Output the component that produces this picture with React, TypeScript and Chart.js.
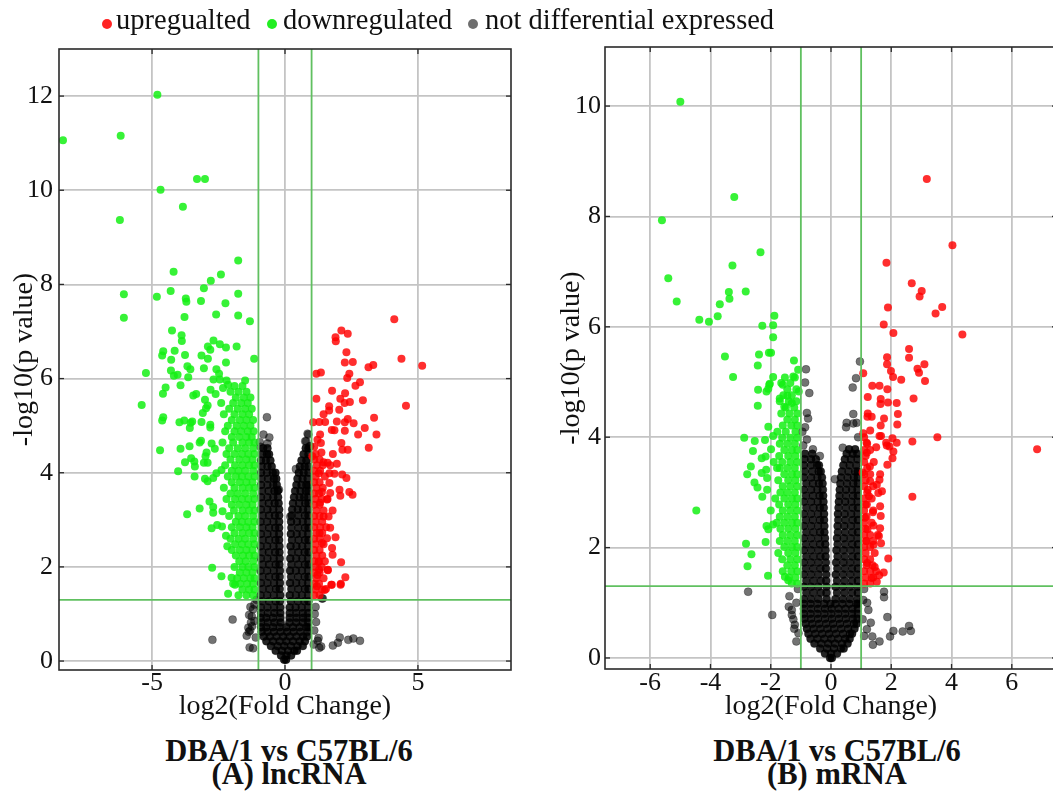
import React, { useEffect, useRef } from 'react';
import { Chart, registerables } from 'chart.js';

Chart.register(...registerables);

type Pt = [number, number];
type Row = number[];

const SERIF = "'Liberation Serif', 'Times New Roman', Times, serif";

// ---------- shared labels / styles ----------
const seriesNames = ['upregualted', 'downregulated', 'not differential expressed'];
const seriesColors = ['rgba(255,0,0,0.82)', 'rgba(20,240,20,0.85)', 'rgba(0,0,0,0.55)'];
const coreColor = 'rgba(0,0,0,0.86)';
const legendDotColors = ['#ff2424', '#22ee22', '#6e6e6e'];
const foldChangeCut = 1;
const pValueCut = 1.301;
const xAxisTitle = 'log2(Fold Change)';
const yAxisTitle = '-log10(p value)';
const comparison = 'DBA/1 vs C57BL/6';
const panelTitles = ['(A) lncRNA', '(B) mRNA'];

// ---------- panel A (lncRNA) ----------
const xRangeA = [-8.5, 8.5];
const yRangeA = [-0.19, 13];
const xTicksA = [-5, 0, 5];
const yTicksA = [0, 2, 4, 6, 8, 10, 12];

const upA: Pt[] = [
  [4.11,7.26],[2.12,7.02],[2.36,6.95],[1.90,6.88],[1.91,6.79],[2.31,6.56],[2.25,6.34],[2.55,6.35],[4.38,6.42],[5.16,6.27],
  [3.32,6.29],[3.14,6.24],[1.18,6.10],[1.35,6.13],[2.42,6.10],[2.34,6.01],[2.82,5.92],[2.65,5.85],[1.77,5.74],[2.26,5.69],
  [1.18,5.57],[2.08,5.57],[2.24,5.48],[2.44,5.50],[2.93,5.54],[4.55,5.42],[1.66,5.41],[1.66,5.32],[2.04,5.34],[1.45,5.24],
  [3.35,5.17],[1.06,5.07],[1.29,5.08],[1.95,5.09],[2.36,5.14],[2.25,5.07],[2.58,5.05],[1.51,5.08],[1.76,4.91],[1.86,4.90],
  [2.25,4.89],[3.00,4.95],[2.75,4.81],[3.44,4.81],[1.32,4.81],[1.22,4.70],[1.35,4.63],[2.12,4.63],[2.16,4.49],[2.36,4.49],
  [3.15,4.53],[1.37,4.43],[1.80,4.40],[1.03,4.35],[1.45,4.22],[1.60,4.21],[1.70,4.16],[1.95,4.19],[1.27,3.99],[1.67,3.99],
  [1.86,3.98],[2.15,3.96],[2.31,3.89],[1.67,3.78],[1.39,3.59],[1.70,3.57],[2.05,3.64],[2.42,3.59],[2.54,3.53],[2.08,3.51],
  [1.32,3.36],[1.58,3.43],[1.79,3.20],[1.45,3.07],[1.64,3.07],[1.70,2.83],[1.90,2.63],[1.58,2.61],[1.30,2.72],[1.39,2.51],
  [1.77,2.40],[1.79,2.26],[2.11,2.10],[1.26,2.10],[1.61,1.93],[2.27,1.78],[2.10,1.64],[1.76,1.62],[1.54,1.53],[1.20,1.59],
  [1.22,1.83],[2.09,1.62],[1.74,1.62],[1.49,1.51],[1.28,1.94],[1.61,1.94],
];
const upADense: Row[] = [
  [1.40, 1.1, 1.3],[1.52, 1.15, 1.4],[1.64, 1.1, 1.28],[1.76, 1.18, 1.45],[1.88, 1.1, 1.3],[2.00, 1.15, 1.38],
  [2.12, 1.1, 1.28, 1.5],[2.24, 1.18, 1.4],[2.36, 1.1, 1.3],[2.48, 1.15, 1.45],[2.60, 1.1, 1.3],[2.72, 1.18, 1.4],
  [2.84, 1.1, 1.32, 1.55],[2.96, 1.15, 1.4],[3.08, 1.1, 1.3],[3.20, 1.18, 1.45],[3.32, 1.1, 1.3],[3.44, 1.15, 1.38, 1.6],
  [3.56, 1.1, 1.28],[3.68, 1.18, 1.42],[3.80, 1.1, 1.3],[3.92, 1.15, 1.5],[4.04, 1.1, 1.32],[4.16, 1.2, 1.42],
  [4.28, 1.1, 1.3],[4.40, 1.15],[4.55, 1.1],
];
const downA: Pt[] = [
  [-4.80,12.03],[-8.35,11.06],[-6.18,11.16],[-3.31,10.24],[-3.01,10.24],[-4.68,10.01],[-3.84,9.65],[-6.21,9.37],[-1.76,8.51],
  [-4.19,8.27],[-2.41,8.21],[-2.79,8.08],[-3.05,7.92],[-6.06,7.79],[-4.30,7.86],[-4.82,7.74],[-3.73,7.70],[-3.71,7.63],
  [-3.16,7.65],[-2.24,7.60],[-1.76,7.80],[-6.06,7.29],[-3.78,7.31],[-2.59,7.36],[-1.76,7.34],[-1.32,7.22],[-4.25,7.02],
  [-3.89,6.92],[-3.88,6.80],[-2.69,6.81],[-2.45,6.73],[-2.90,6.68],[-2.81,6.61],[-2.22,6.66],[-1.82,6.68],[-4.58,6.58],
  [-4.62,6.49],[-4.15,6.59],[-3.76,6.50],[-4.28,6.40],[-3.14,6.49],[-2.90,6.42],[-2.22,6.34],[-1.16,6.42],[-3.67,6.26],
  [-3.56,6.20],[-3.05,6.22],[-2.58,6.20],[-2.48,6.10],[-5.23,6.12],[-4.29,6.17],[-4.18,6.06],[-4.04,6.08],[-3.64,6.03],
  [-2.69,5.98],[-2.45,5.98],[-3.93,5.86],[-4.49,5.81],[-4.59,5.68],[-5.39,5.44],[-3.45,5.64],[-3.34,5.67],[-3.01,5.55],
  [-2.91,5.43],[-2.80,5.76],[-2.61,5.67],[-2.33,5.80],[-2.14,5.87],[-4.58,5.18],[-4.62,5.11],[-3.97,5.07],[-3.79,5.11],
  [-3.55,5.06],[-3.49,5.09],[-3.58,4.95],[-3.14,5.08],[-3.09,5.27],[-2.97,5.37],[-2.81,5.02],[-2.81,4.96],[-4.70,4.48],
  [-3.93,4.51],[-3.59,4.56],[-3.21,4.64],[-3.16,4.68],[-2.95,4.43],[-2.99,4.35],[-2.76,4.62],[-2.64,4.51],[-3.76,4.22],
  [-3.53,4.31],[-3.41,4.24],[-3.39,4.13],[-3.05,4.21],[-2.91,4.21],[-4.02,4.03],[-3.40,3.92],[-3.01,3.87],[-2.91,3.82],
  [-2.70,3.89],[-2.58,3.99],[-2.39,4.06],[-3.68,3.12],[-3.21,3.24],[-2.84,3.39],[-2.70,3.27],[-2.70,3.15],[-2.35,3.18],
  [-2.76,2.82],[-2.55,2.89],[-2.37,2.86],[-2.22,2.66],[-2.17,2.44],[-2.74,1.98],[-2.39,1.80],[-2.14,1.43],[-2.01,1.77],
  [-1.88,1.62],
];
const downADense: Row[] = [
  [1.40, -1.2, -1.45, -1.75],[1.52, -1.15, -1.35, -1.6],[1.64, -1.2, -1.42, -1.68, -1.95],[1.76, -1.15, -1.3, -1.55, -1.8],
  [1.88, -1.22, -1.45, -1.7],[2.00, -1.15, -1.38, -1.6, -1.9],[2.12, -1.2, -1.48, -1.72],[2.24, -1.15, -1.35, -1.58, -1.85],
  [2.36, -1.22, -1.45, -1.7, -2.0],[2.48, -1.15, -1.38, -1.62, -1.88],[2.60, -1.2, -1.5, -1.75, -2.05],[2.72, -1.15, -1.35, -1.6, -1.9],
  [2.84, -1.22, -1.45, -1.7, -2.0],[2.96, -1.15, -1.38, -1.62, -1.85],[3.08, -1.2, -1.5, -1.75, -2.1],[3.20, -1.15, -1.35, -1.6, -1.92],
  [3.32, -1.22, -1.45, -1.72, -2.0],[3.44, -1.15, -1.38, -1.62, -1.88, -2.2],[3.56, -1.2, -1.5, -1.78, -2.05],
  [3.68, -1.15, -1.35, -1.6, -1.9, -2.3],[3.80, -1.22, -1.45, -1.7, -2.0],[3.92, -1.15, -1.38, -1.62, -1.85, -2.15],
  [4.04, -1.2, -1.5, -1.75, -2.0],[4.16, -1.15, -1.35, -1.6, -1.88, -2.25],[4.28, -1.22, -1.45, -1.72, -2.05],
  [4.40, -1.15, -1.38, -1.62, -1.9, -2.2],[4.52, -1.2, -1.5, -1.78, -2.1],[4.64, -1.15, -1.35, -1.6, -1.95, -2.35],
  [4.76, -1.25, -1.45, -1.72, -2.0],[4.88, -1.18, -1.4, -1.65, -1.9, -2.25],[5.00, -1.3, -1.55, -1.82, -2.15],
  [5.12, -1.2, -1.45, -1.7, -2.0],[5.24, -1.35, -1.6, -1.9, -2.3],[5.36, -1.25, -1.5, -1.78, -2.1],
  [5.48, -1.4, -1.65, -1.95, -2.4],[5.60, -1.3, -1.55, -1.85],[5.72, -1.45, -1.75, -2.05],[5.84, -1.6, -1.9],[5.96, -1.5, -2.2],
];
const nsA: Pt[] = [
  [-0.68,5.18],[-0.81,4.81],[-0.59,4.75],[-0.66,4.62],[0.41,4.08],[0.80,4.67],[0.88,4.81],[0.92,4.56],[-0.23,3.64],
  [0.2,3.07],[0.85,4.83],[0.76,4.67],[0.95,4.56],[0.88,4.29],[-0.26,3.63],[-0.95,4.65],[-0.92,4.55],
  [-2.73,0.45],[-1.97,0.88],[-1.33,0.29],[-1.31,0.65],[-1.44,0.54],[-1.2,0.27],[-1.38,0.71],[-1.24,0.74],
  [1.23,0.43],[1.36,0.31],[1.80,0.33],[1.99,0.39],[2.06,0.50],[2.38,0.45],[2.57,0.48],[2.82,0.43],[1.42,1.33],
  [1.17,0.83],[1.26,0.49],[1.29,0.28],[1.39,1.33],[-1.15,1.2],[-1.2,1.1],[-1.25,0.95],[-1.15,0.85],[1.12,1.0],
  [1.1,0.65],[1.15,1.15],[-1.1,0.5],[1.08,0.35],[-1.07,1.3],[-1.3,1.15],[-1.35,0.98],[-1.28,0.82],[-1.36,0.62],
];
const nsADense: Row[] = [
  [0.03, -0.03, 0.04],
  [0.12, -0.15, 0.05, 0.23],
  [0.22, -0.35, -0.12, 0.12, 0.35, 0.45],
  [0.32, -0.53, -0.28, -0.03, 0.22, 0.47, 0.67],
  [0.42, -0.7, -0.45, -0.2, 0.05, 0.3, 0.55, 0.75],
  [0.52, -0.8, -0.57, -0.32, -0.07, 0.18, 0.43, 0.68, 0.83],
  [0.62, -0.88, -0.66, -0.42, -0.17, 0.08, 0.32, 0.58, 0.85],
  [0.72, -0.9, -0.7, -0.45, -0.2, 0.05, 0.3, 0.55, 0.8, 0.87],
  [0.82, -0.9, -0.65, -0.4, -0.17, 0.17, 0.42, 0.67, 0.87],
  [0.92, -0.91, -0.7, -0.45, -0.18, 0.18, 0.43, 0.68, 0.87],
  [1.02, -0.9, -0.65, -0.4, -0.18, 0.18, 0.42, 0.67, 0.87],
  [1.14, -0.91, -0.66, -0.41, -0.18, 0.18, 0.4, 0.63, 0.87],
  [1.27, -0.85, -0.6, -0.35, -0.19, 0.22, 0.48, 0.73, 0.88],
  [1.40, -0.92, -0.67, -0.42, -0.18, 0.18, 0.41, 0.64, 0.87],
  [1.53, -0.84, -0.59, -0.34, -0.2, 0.24, 0.5, 0.75, 0.88],
  [1.66, -0.91, -0.66, -0.41, -0.19, 0.19, 0.42, 0.65, 0.87],
  [1.79, -0.85, -0.6, -0.36, -0.2, 0.23, 0.49, 0.74, 0.88],
  [1.92, -0.92, -0.67, -0.42, -0.19, 0.19, 0.41, 0.64, 0.87],
  [2.05, -0.84, -0.6, -0.35, -0.21, 0.24, 0.5, 0.75, 0.88],
  [2.18, -0.91, -0.66, -0.42, -0.2, 0.2, 0.42, 0.65, 0.87],
  [2.31, -0.85, -0.61, -0.37, -0.21, 0.25, 0.5, 0.74, 0.88],
  [2.44, -0.92, -0.67, -0.43, -0.21, 0.21, 0.43, 0.65, 0.87],
  [2.57, -0.84, -0.6, -0.36, -0.22, 0.26, 0.51, 0.75, 0.88],
  [2.70, -0.91, -0.66, -0.42, -0.22, 0.22, 0.44, 0.66, 0.87],
  [2.83, -0.85, -0.6, -0.37, -0.22, 0.24, 0.5, 0.75, 0.88],
  [2.96, -0.92, -0.67, -0.43, -0.22, 0.23, 0.45, 0.67, 0.87],
  [3.09, -0.84, -0.6, -0.38, -0.22, 0.25, 0.5, 0.75, 0.88],
  [3.22, -0.91, -0.66, -0.44, -0.22, 0.27, 0.48, 0.68, 0.87],
  [3.35, -0.85, -0.61, -0.39, -0.24, 0.3, 0.53, 0.76, 0.88],
  [3.48, -0.9, -0.66, -0.44, -0.26, 0.34, 0.55, 0.72, 0.87],
  [3.61, -0.86, -0.62, -0.4, -0.28, 0.38, 0.58, 0.78, 0.88],
  [3.74, -0.9, -0.66, -0.44, -0.31, 0.43, 0.62, 0.8, 0.88],
  [3.87, -0.88, -0.64, -0.42, -0.33, 0.47, 0.66, 0.85],
  [4.00, -0.9, -0.68, -0.46, -0.36, 0.52, 0.7, 0.88],
  [4.13, -0.88, -0.66, -0.5, 0.56, 0.74, 0.88],
  [4.26, -0.9, -0.72, -0.55, 0.62, 0.8],
  [4.39, -0.86, -0.68, -0.6, 0.7, 0.88],
  [4.52, -0.82, -0.66, 0.78, 0.88],
];

// ---------- panel B (mRNA) ----------
const xRangeB = [-7.5, 7.5];
const yRangeB = [-0.2, 11.07];
const xTicksB = [-6, -4, -2, 0, 2, 4, 6];
const yTicksB = [0, 2, 4, 6, 8, 10];

const upB: Pt[] = [
  [3.18,8.68],[4.03,7.48],[1.84,7.16],[2.68,6.79],[3.01,6.65],[2.94,6.55],[3.69,6.36],[3.47,6.24],[1.89,6.35],[1.75,6.04],
  [2.07,5.89],[4.36,5.86],[2.59,5.60],[2.59,5.44],[1.86,5.45],[1.86,5.32],[3.10,5.32],[2.87,5.24],[2.92,5.17],[1.99,5.20],
  [2.06,5.09],[2.33,5.04],[3.12,5.02],[1.07,5.16],[1.37,4.93],[1.61,4.93],[1.87,4.87],[1.22,4.73],[1.65,4.69],[1.64,4.60],
  [1.89,4.63],[2.18,4.62],[2.74,4.70],[1.22,4.43],[1.35,4.37],[1.21,4.37],[2.22,4.42],[1.76,4.34],[1.65,4.21],[2.20,4.23],
  [1.30,4.12],[1.07,4.07],[1.61,4.02],[1.66,4.02],[2.04,3.98],[2.18,3.90],[1.83,3.90],[1.85,3.85],[1.50,3.82],[1.18,3.90],
  [1.19,3.72],[2.70,3.92],[3.53,4.00],[6.84,3.78],[1.94,3.83],[2.07,3.74],[2.04,3.62],[1.87,3.50],[1.29,3.47],[1.05,3.36],
  [1.63,3.33],[1.61,3.23],[1.30,3.20],[1.52,3.14],[1.69,3.02],[1.57,2.99],[1.22,3.05],[1.26,2.93],[2.70,2.92],[1.63,2.75],
  [1.65,2.57],[1.39,2.64],[1.41,2.40],[1.63,2.35],[1.59,2.21],[1.66,2.08],[1.41,2.05],[1.16,2.12],[1.21,2.33],[1.13,2.54],
  [1.19,2.78],[1.2,1.72],[1.45,1.65],[1.6,1.5],[1.35,1.45],[1.52,1.38],[1.75,1.55],[1.9,1.8],
];
const upBDense: Row[] = [
  [1.35, 1.1, 1.3],[1.46, 1.15, 1.4],[1.57, 1.1, 1.3, 1.5],[1.68, 1.18, 1.38],[1.79, 1.1, 1.3],[1.90, 1.15, 1.45],
  [2.01, 1.1, 1.3],[2.12, 1.18, 1.4],[2.23, 1.1, 1.3, 1.55],[2.34, 1.15],[2.45, 1.1, 1.35],[2.56, 1.18],[2.67, 1.1, 1.4],
  [2.78, 1.15],[2.89, 1.1, 1.35],[3.00, 1.2],[3.11, 1.1, 1.4],[3.22, 1.15],[3.33, 1.1, 1.3],[3.44, 1.2],[3.55, 1.1, 1.42],
  [3.66, 1.15],[3.77, 1.1, 1.3],[3.88, 1.2],[4.00, 1.1],
];
const downB: Pt[] = [
  [-5.00,10.08],[-3.21,8.35],[-5.61,7.93],[-2.34,7.35],[-3.27,7.11],[-5.40,6.88],[-5.12,6.46],[-3.39,6.63],[-3.37,6.51],
  [-2.83,6.64],[-3.69,6.41],[-3.76,6.19],[-4.37,6.13],[-4.05,6.09],[-1.88,6.2],[-2.28,6.02],[-1.92,6.03],[-1.92,5.81],
  [-3.52,5.46],[-2.39,5.50],[-2.06,5.53],[-1.99,5.53],[-2.43,5.30],[-1.23,5.39],[-1.09,5.22],[-3.25,5.09],[-1.92,5.09],
  [-1.53,5.08],[-1.20,5.08],[-2.42,4.86],[-2.14,4.83],[-2.43,4.57],[-2.05,4.95],[-1.07,4.83],[-2.03,4.97],[-2.08,4.88],
  [-2.08,4.19],[-1.92,4.02],[-2.19,3.95],[-1.99,3.78],[-2.30,3.62],[-2.17,3.65],[-2.88,3.99],[-2.53,3.93],[-2.59,3.75],
  [-2.66,3.47],[-2.78,3.33],[-2.30,3.35],[-2.12,3.26],[-2.15,3.41],[-1.79,3.44],[-2.54,3.18],[-2.44,3.09],[-2.28,2.92],
  [-2.12,3.05],[-4.47,2.67],[-2.00,2.67],[-2.14,2.39],[-2.08,2.33],[-1.92,2.42],[-2.82,2.07],[-2.64,1.88],[-2.77,1.66],
  [-2.17,2.1],[-2.09,1.49],[-1.53,1.47],[-1.42,1.41],[-1.6,4.95],[-1.45,4.75],[-1.3,4.62],[-1.7,4.7],[-1.55,4.55],
];
const downBDense: Row[] = [
  [1.35, -1.12, -1.3],[1.46, -1.18, -1.4],[1.57, -1.12, -1.32, -1.6],[1.68, -1.2, -1.45],[1.79, -1.12, -1.35, -1.62],
  [1.90, -1.18, -1.42, -1.75],[2.01, -1.12, -1.3, -1.55],[2.12, -1.2, -1.45, -1.7],[2.23, -1.12, -1.35, -1.6],
  [2.34, -1.18, -1.42, -1.68],[2.45, -1.12, -1.3, -1.55, -1.8],[2.56, -1.2, -1.45, -1.7],[2.67, -1.12, -1.35, -1.6],
  [2.78, -1.18, -1.42, -1.72],[2.89, -1.12, -1.3, -1.55, -1.85],[3.00, -1.2, -1.45, -1.68],[3.11, -1.12, -1.35, -1.6],
  [3.22, -1.18, -1.42, -1.75],[3.33, -1.12, -1.3, -1.55],[3.44, -1.2, -1.45, -1.7],[3.55, -1.12, -1.35, -1.62, -1.9],
  [3.66, -1.18, -1.42, -1.72],[3.77, -1.12, -1.3, -1.55],[3.88, -1.2, -1.45, -1.7],[3.99, -1.12, -1.35, -1.62],
  [4.10, -1.18, -1.5, -1.78],[4.21, -1.12, -1.32, -1.6],[4.32, -1.2, -1.45],[4.43, -1.12, -1.38, -1.65],[4.54, -1.22, -1.5],
  [4.65, -1.15, -1.4, -1.7],[4.76, -1.3, -1.58],[4.87, -1.15, -1.45],[4.98, -1.35, -1.65],[5.10, -1.25],
];
const nsB: Pt[] = [
  [-0.83,5.23],[-0.86,4.99],[-0.72,4.80],[-0.80,4.44],[-0.76,4.34],[-0.86,4.18],[-0.8,3.96],[-0.6,3.78],[-0.37,3.66],
  [0.96,5.37],[0.83,5.07],[0.72,4.90],[0.74,4.42],[0.52,4.26],[0.74,4.25],[0.50,4.18],[0.85,4.26],[0.39,3.81],[0.13,3.24],
  [0.9,4.0],[-0.92,3.85],[-0.95,4.1],
  [-2.75,1.20],[-1.95,0.78],[-1.38,1.12],[-1.4,0.93],[-1.3,0.87],[-1.3,0.78],[-1.25,0.7],[-1.2,0.6],[-1.22,0.53],
  [-1.15,0.3],[-1.1,1.25],[-1.15,1.0],[-1.08,0.45],[1.76,1.20],[1.76,1.10],[1.87,0.74],[1.32,0.64],[1.19,0.52],
  [1.37,0.39],[1.39,0.24],[1.61,0.30],[1.96,0.39],[2.07,0.49],[2.38,0.48],[2.59,0.58],[2.65,0.49],[1.07,1.05],
  [1.2,1.0],[1.24,0.87],[1.1,1.25],[1.05,0.7],[1.1,0.4],
];
const nsBDense: Row[] = [
  [0.00, -0.03, 0.03],
  [0.08, -0.2, 0.0, 0.2],
  [0.17, -0.36, -0.13, 0.1, 0.33, 0.42],
  [0.26, -0.55, -0.32, -0.09, 0.14, 0.37, 0.55],
  [0.35, -0.68, -0.45, -0.22, 0.01, 0.24, 0.47, 0.62],
  [0.44, -0.75, -0.52, -0.29, -0.06, 0.17, 0.4, 0.63, 0.7],
  [0.53, -0.8, -0.58, -0.35, -0.12, 0.11, 0.34, 0.57, 0.78],
  [0.62, -0.84, -0.62, -0.39, -0.16, 0.07, 0.3, 0.53, 0.76, 0.85],
  [0.71, -0.88, -0.66, -0.43, -0.2, 0.03, 0.26, 0.49, 0.72, 0.88],
  [0.80, -0.9, -0.68, -0.45, -0.22, 0.01, 0.24, 0.47, 0.7, 0.89],
  [0.89, -0.9, -0.66, -0.43, -0.2, 0.02, 0.25, 0.48, 0.71, 0.89],
  [0.98, -0.9, -0.68, -0.45, -0.22, -0.02, 0.15, 0.38, 0.61, 0.84, 0.89],
  [1.07, -0.9, -0.66, -0.42, -0.15, 0.15, 0.39, 0.63, 0.88],
  [1.18, -0.82, -0.58, -0.34, -0.15, 0.2, 0.45, 0.7, 0.89],
  [1.29, -0.9, -0.66, -0.42, -0.15, 0.15, 0.39, 0.63, 0.88],
  [1.40, -0.82, -0.58, -0.34, -0.16, 0.2, 0.45, 0.7, 0.89],
  [1.51, -0.9, -0.66, -0.42, -0.16, 0.16, 0.4, 0.64, 0.88],
  [1.62, -0.83, -0.59, -0.35, -0.17, 0.21, 0.46, 0.7, 0.89],
  [1.73, -0.9, -0.66, -0.42, -0.17, 0.17, 0.41, 0.64, 0.88],
  [1.84, -0.82, -0.58, -0.35, -0.18, 0.22, 0.46, 0.71, 0.89],
  [1.95, -0.9, -0.66, -0.42, -0.18, 0.18, 0.41, 0.65, 0.88],
  [2.06, -0.83, -0.59, -0.36, -0.19, 0.22, 0.47, 0.71, 0.89],
  [2.17, -0.9, -0.66, -0.42, -0.2, 0.2, 0.42, 0.65, 0.88],
  [2.28, -0.82, -0.58, -0.36, -0.22, 0.23, 0.47, 0.71, 0.89],
  [2.39, -0.9, -0.66, -0.43, -0.22, 0.22, 0.44, 0.66, 0.88],
  [2.50, -0.83, -0.6, -0.37, -0.23, 0.24, 0.48, 0.72, 0.89],
  [2.61, -0.9, -0.66, -0.43, -0.23, 0.23, 0.45, 0.67, 0.88],
  [2.72, -0.82, -0.58, -0.37, -0.24, 0.25, 0.49, 0.72, 0.89],
  [2.83, -0.9, -0.66, -0.44, -0.25, 0.26, 0.47, 0.68, 0.88],
  [2.94, -0.83, -0.6, -0.38, -0.26, 0.28, 0.5, 0.73, 0.89],
  [3.05, -0.9, -0.66, -0.45, -0.27, 0.29, 0.5, 0.7, 0.88],
  [3.16, -0.82, -0.6, -0.4, -0.28, 0.31, 0.53, 0.74, 0.89],
  [3.27, -0.9, -0.66, -0.45, -0.3, 0.33, 0.55, 0.76, 0.89],
  [3.38, -0.86, -0.62, -0.41, -0.34, 0.36, 0.58, 0.8, 0.89],
  [3.49, -0.9, -0.67, -0.46, -0.4, 0.41, 0.62, 0.84],
  [3.60, -0.88, -0.66, -0.5, 0.46, 0.66, 0.88],
  [3.70, -0.86, -0.62, 0.52, 0.72, 0.87],
  [3.78, 0.6, 0.8],
];

// ---------- helpers ----------
type XY = { x: number; y: number };
const fromPairs = (p: Pt[]): XY[] => p.map(([x, y]) => ({ x, y }));
const fromRows = (rows: Row[]): XY[] => rows.flatMap(([y, ...xs]) => xs.map((x) => ({ x, y })));

const framePlugin = {
  id: 'volcanoFrame',
  afterDatasetsDraw(chart: any) {
    const { ctx, chartArea, scales } = chart;
    const { left, right, top, bottom } = chartArea;
    const xs = scales.x;
    const ys = scales.y;
    const seg = (x1: number, y1: number, x2: number, y2: number) => {
      ctx.beginPath();
      ctx.moveTo(x1, y1);
      ctx.lineTo(x2, y2);
      ctx.stroke();
    };
    ctx.save();
    ctx.strokeStyle = 'rgb(96,192,96)';
    ctx.lineWidth = 1.8;
    [-foldChangeCut, foldChangeCut].forEach((v) => {
      const px = xs.getPixelForValue(v);
      seg(px, top, px, bottom);
    });
    const py = ys.getPixelForValue(pValueCut);
    seg(left, py, right, py);
    ctx.strokeStyle = '#2a2a2a';
    ctx.lineWidth = 1.6;
    ctx.strokeRect(left, top, right - left, bottom - top);
    ctx.lineWidth = 1.3;
    xs.ticks.forEach((t: any) => {
      const p = xs.getPixelForValue(t.value);
      seg(p, bottom, p, bottom - 5);
      seg(p, top, p, top + 5);
    });
    ys.ticks.forEach((t: any) => {
      const p = ys.getPixelForValue(t.value);
      seg(left, p, left + 5, p);
      seg(right, p, right - 5, p);
    });
    ctx.restore();
  },
};

interface PanelProps {
  left: number;
  width: number;
  height: number;
  padTop: number;
  padRight: number;
  yAxisWidth: number;
  xAxisHeight: number;
  yTitlePad: number;
  yTickPad: number;
  xTickPad: number;
  xTitlePad: number;
  xRange: number[];
  yRange: number[];
  xTicks: number[];
  yTicks: number[];
  up: XY[];
  down: XY[];
  ns: XY[];
  nsCore: XY[];
}

function VolcanoPanel(p: PanelProps) {
  const ref = useRef<HTMLCanvasElement | null>(null);
  useEffect(() => {
    if (!ref.current) return;
    const tickFont = { family: SERIF, size: 26, lineHeight: 1 };
    const titleFont = { family: SERIF, size: 28, lineHeight: 1 };
    const common = { pointRadius: 4, pointHoverRadius: 4 };
    const chart = new Chart(ref.current, {
      type: 'scatter',
      data: {
        datasets: [
          { label: seriesNames[0], data: p.up, backgroundColor: seriesColors[0], borderWidth: 0, ...common },
          { label: seriesNames[1], data: p.down, backgroundColor: seriesColors[1], borderWidth: 0, ...common },
          { label: seriesNames[2], data: p.ns, backgroundColor: seriesColors[2], borderColor: 'rgba(0,0,0,0.35)', borderWidth: 0.8, ...common },
          { label: seriesNames[2], data: p.nsCore, backgroundColor: coreColor, borderColor: 'rgba(0,0,0,0.4)', borderWidth: 0.8, ...common },
        ],
      },
      options: {
        animation: false,
        responsive: false,
        maintainAspectRatio: false,
        events: [],
        layout: { padding: { top: p.padTop, right: p.padRight, left: 0, bottom: 0 } },
        plugins: { legend: { display: false }, tooltip: { enabled: false }, title: { display: false } },
        scales: {
          x: {
            type: 'linear',
            min: p.xRange[0],
            max: p.xRange[1],
            afterBuildTicks: (s: any) => { s.ticks = p.xTicks.map((v) => ({ value: v })); },
            afterFit: (s: any) => { s.height = p.xAxisHeight; },
            ticks: { font: tickFont, color: '#111', padding: p.xTickPad, autoSkip: false, maxRotation: 0, callback: (v: any) => String(v) },
            grid: { color: '#c4c4c4', lineWidth: 1.8, drawTicks: false },
            border: { display: false },
            title: { display: true, text: xAxisTitle, font: titleFont, color: '#111', padding: { top: 0, bottom: p.xTitlePad } },
          },
          y: {
            type: 'linear',
            min: p.yRange[0],
            max: p.yRange[1],
            afterBuildTicks: (s: any) => { s.ticks = p.yTicks.map((v) => ({ value: v })); },
            afterFit: (s: any) => { s.width = p.yAxisWidth; },
            ticks: { font: tickFont, color: '#111', padding: p.yTickPad, autoSkip: false, callback: (v: any) => String(v) },
            grid: { color: '#c4c4c4', lineWidth: 1.8, drawTicks: false },
            border: { display: false },
            title: { display: true, text: yAxisTitle, font: titleFont, color: '#111', padding: { top: p.yTitlePad, bottom: 0 } },
          },
        },
      },
      plugins: [framePlugin],
    } as any);
    return () => chart.destroy();
  }, []);
  return (
    <canvas
      ref={ref}
      width={p.width}
      height={p.height}
      style={{ position: 'absolute', left: p.left, top: 0, width: p.width, height: p.height, display: 'block' }}
    />
  );
}

export default function App() {
  const legendPos = [
    { dot: 107, text: 116 },
    { dot: 272, text: 283 },
    { dot: 473, text: 485 },
  ];
  const titleCenters = [289, 837];
  return (
    <div style={{ position: 'absolute', left: 0, top: 0, width: 1053, height: 798, overflow: 'hidden', background: '#fff', fontFamily: SERIF }}>
      <VolcanoPanel
        left={0} width={530} height={731} padTop={49} padRight={19} yAxisWidth={59} xAxisHeight={61}
        yTitlePad={11} yTickPad={6} xTickPad={0} xTitlePad={10}
        xRange={xRangeA} yRange={yRangeA} xTicks={xTicksA} yTicks={yTicksA}
        up={[...fromPairs(upA), ...fromRows(upADense)]}
        down={[...fromPairs(downA), ...fromRows(downADense)]}
        ns={fromPairs(nsA)}
        nsCore={fromRows(nsADense)}
      />
      <VolcanoPanel
        left={530} width={540} height={731} padTop={47} padRight={13} yAxisWidth={75} xAxisHeight={62}
        yTitlePad={28} yTickPad={4} xTickPad={1} xTitlePad={10}
        xRange={xRangeB} yRange={yRangeB} xTicks={xTicksB} yTicks={yTicksB}
        up={[...fromPairs(upB), ...fromRows(upBDense)]}
        down={[...fromPairs(downB), ...fromRows(downBDense)]}
        ns={fromPairs(nsB)}
        nsCore={fromRows(nsBDense)}
      />
      {seriesNames.map((name, i) => (
        <React.Fragment key={name}>
          <div style={{ position: 'absolute', left: legendPos[i].dot - 5, top: 19, width: 10, height: 10, borderRadius: 5, background: legendDotColors[i] }} />
          <div style={{ position: 'absolute', left: legendPos[i].text, top: 6, fontSize: 28.5, lineHeight: '28.5px', color: '#111', whiteSpace: 'nowrap' }}>{name}</div>
        </React.Fragment>
      ))}
      {panelTitles.map((t, i) => (
        <div key={t} style={{ position: 'absolute', left: titleCenters[i] - 220, width: 440, top: 740, textAlign: 'center', fontWeight: 'bold', fontSize: 30.5, lineHeight: '23px', color: '#111' }}>
          <div>{comparison}</div>
          <div>{t}</div>
        </div>
      ))}
    </div>
  );
}
